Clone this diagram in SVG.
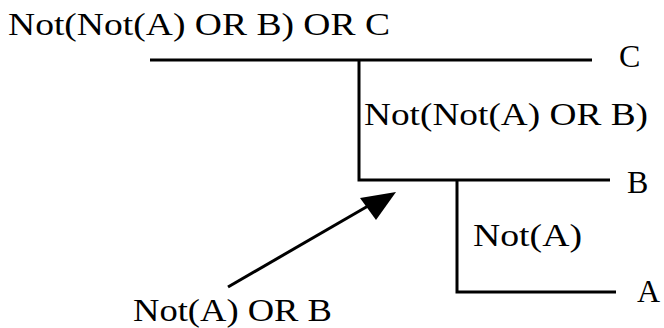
<svg xmlns="http://www.w3.org/2000/svg" width="664" height="328" viewBox="0 0 664 328">
<style>
.t{font-size:32px;fill:#000}
.ln{stroke:#000;stroke-width:3;fill:none}
</style>
<rect width="664" height="328" fill="#fff"/>
<g id="connectors">
<path class="ln" d="M150 60H592M359 60V180H610M457 180V292H616"/>
<line class="ln" x1="228" y1="287" x2="368" y2="206" stroke-width="4"/>
<polygon points="360,198 396,192 376,220" fill="#000"/>
</g>
<g font-family="Liberation Serif, DejaVu Serif, Noto Serif, serif">
<g id="root"><text class="t" x="8" y="35" textLength="382" lengthAdjust="spacingAndGlyphs">Not(Not(A) OR B) OR C</text></g>
<g id="n1"><text class="t" x="364" y="125" textLength="284" lengthAdjust="spacingAndGlyphs">Not(Not(A) OR B)</text></g>
<g id="n2"><text class="t" x="473" y="246" textLength="109" lengthAdjust="spacingAndGlyphs">Not(A)</text></g>
<g id="n3"><text class="t" x="133" y="321" textLength="199" lengthAdjust="spacingAndGlyphs">Not(A) OR B</text></g>
<g id="c"><text class="t" x="619" y="67">C</text></g>
<g id="b"><text class="t" x="627" y="193">B</text></g>
<g id="a"><text class="t" x="637" y="302">A</text></g>
</g>
</svg>
